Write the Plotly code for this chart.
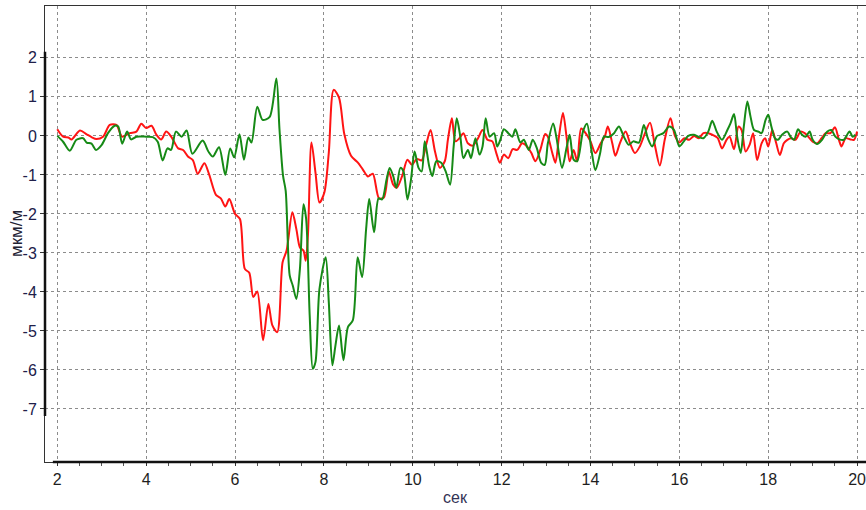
import plotly.graph_objects as go

# ---- data ----
red_t = [2.0, 2.13, 2.25, 2.32, 2.51, 2.66, 2.77, 2.88, 3.03, 3.18, 3.33, 3.46, 3.63, 3.78, 3.89, 4.0, 4.12, 4.23, 4.34, 4.45, 4.57, 4.72, 4.83, 4.94, 5.05, 5.16, 5.31, 5.42, 5.57, 5.68, 5.78, 5.87, 6.0,
         6.11, 6.22, 6.32, 6.41, 6.5, 6.63, 6.75, 6.84, 6.95, 7.07, 7.16, 7.29, 7.38, 7.46, 7.54, 7.59, 7.64, 7.72, 7.81, 7.9, 8.01, 8.11, 8.22, 8.34, 8.46, 8.61, 8.76, 8.87, 8.99,
         9.1, 9.24, 9.35, 9.46, 9.56, 9.64, 9.76, 9.88, 9.98, 10.09, 10.2, 10.3, 10.4, 10.5, 10.61, 10.72, 10.79, 10.88, 10.96, 11.05, 11.14, 11.24, 11.35, 11.46, 11.57, 11.68, 11.79, 11.88, 11.96, 12.05, 12.15, 12.25, 12.35, 12.46, 12.57, 12.67, 12.76, 12.87, 12.98,
         13.04, 13.14, 13.21, 13.29, 13.38, 13.46, 13.53, 13.62, 13.7, 13.79, 13.89, 14.0, 14.11, 14.23, 14.32, 14.39, 14.49, 14.56, 14.66, 14.79, 14.89, 15.0, 15.11, 15.24, 15.34, 15.44, 15.56, 15.67, 15.8, 15.9, 16.0, 16.11, 16.22, 16.33, 16.44, 16.54, 16.65, 16.74, 16.86,
         16.96, 17.06, 17.13, 17.23, 17.33, 17.4, 17.49, 17.58, 17.66, 17.75, 17.85, 17.93, 18.0, 18.09, 18.18, 18.26, 18.35, 18.43, 18.52, 18.61, 18.73, 18.82, 18.9, 19.0, 19.1, 19.2, 19.29, 19.4, 19.5, 19.59, 19.65, 19.74, 19.85, 19.93, 20.0]
red_v = [0.17, -0.02, -0.04, -0.09, 0.14, 0.04, -0.03, -0.08, -0.02, 0.28, 0.28, -0.02, 0.07, 0.11, 0.31, 0.2, 0.26, 0.03, -0.09, 0.11, -0.03, -0.32, -0.36, -0.53, -0.62, -0.97, -0.70, -1.0, -1.51, -1.6, -1.81, -1.62, -2.0,
         -2.13, -3.41, -3.51, -4.13, -3.99, -5.24, -4.31, -4.86, -5.03, -3.24, -2.94, -1.96, -2.39, -2.86, -2.94, -3.2, -2.56, -0.17, -0.94, -1.71, -1.45, -0.43, 1.18, 0.98, 0.04, -0.51, -0.68, -0.85, -1.04,
         -0.97, -1.6, -1.58, -0.91, -1.25, -1.33, -1.03, -0.61, -0.74, -0.59, -0.63, -0.23, 0.15, -0.4, -0.82, -0.65, -0.1, 0.45, -0.14, -0.06, 0.07, -0.19, -0.25, -0.08, 0.15, -0.1, -0.14, -0.44, -0.69, -0.48, -0.57, -0.34, -0.36, -0.19, -0.27, -0.44, -0.65, -0.36, 0.05,
         -0.02, -0.44, -0.69, -0.02, 0.59, -0.02, -0.65, -0.36, -0.65, 0.19, 0.07, -0.14, -0.44, -0.19, -0.02, 0.24, -0.19, -0.51, -0.19, 0.11, -0.19, -0.44, -0.27, 0.11, 0.34, -0.19, -0.76, -0.1, 0.45, 0.0, -0.17, -0.06, -0.1, 0.0, -0.06, 0.07, 0.07, 0.03, -0.05,
         -0.32, -0.1, -0.02, -0.34, 0.24, 0.15, -0.4, -0.23, 0.07, -0.62, -0.19, -0.06, -0.27, 0.15, -0.19, -0.49, -0.19, -0.1, -0.06, -0.1, 0.11, 0.07, -0.02, -0.15, -0.19, -0.06, 0.07, 0.07, 0.22, -0.1, -0.27, -0.06, -0.09, -0.1, 0.11]

green_t = [2.0, 2.13, 2.28, 2.43, 2.58, 2.66, 2.77, 2.87, 3.0, 3.14, 3.29, 3.37, 3.46, 3.57, 3.66, 3.78, 4.0, 4.15, 4.26, 4.37, 4.48, 4.56, 4.67, 4.8, 4.91, 5.04, 5.27, 5.4, 5.5, 5.64, 5.78, 5.89, 5.98,
           6.1, 6.2, 6.3, 6.37, 6.5, 6.62, 6.78, 6.93, 7.0, 7.08, 7.14, 7.23, 7.3, 7.38, 7.46, 7.54, 7.6, 7.68, 7.75, 7.81, 7.9, 8.04, 8.11, 8.19, 8.26, 8.34, 8.44, 8.54, 8.65, 8.76, 8.86, 8.95, 9.02,
           9.13, 9.23, 9.31, 9.41, 9.48, 9.56, 9.63, 9.72, 9.79, 9.88, 9.96, 10.04, 10.13, 10.2, 10.27, 10.37, 10.44, 10.53, 10.64, 10.74, 10.84, 10.92, 10.99, 11.07, 11.14, 11.24, 11.31, 11.41, 11.5, 11.57, 11.64, 11.73, 11.83, 11.9, 11.97, 12.05, 12.15, 12.24, 12.31, 12.42, 12.5, 12.61, 12.7, 12.79, 12.89, 12.97,
           13.04, 13.16, 13.23, 13.36, 13.46, 13.53, 13.62, 13.7, 13.83, 13.92, 14.02, 14.11, 14.21, 14.3, 14.41, 14.53, 14.64, 14.75, 14.86, 14.96, 15.09, 15.2, 15.29, 15.39, 15.5, 15.64, 15.77, 15.88, 16.0, 16.1, 16.2, 16.33, 16.44, 16.54, 16.65, 16.74, 16.84,
           16.96, 17.08, 17.15, 17.23, 17.3, 17.38, 17.45, 17.53, 17.6, 17.68, 17.78, 17.85, 17.94, 18.0, 18.07, 18.15, 18.22, 18.31, 18.43, 18.5, 18.58, 18.67, 18.76, 18.84, 18.93, 19.0, 19.1, 19.21, 19.33, 19.42, 19.51, 19.6, 19.7, 19.83, 19.9, 19.96]
green_v = [0.0, -0.15, -0.38, -0.1, -0.06, -0.17, -0.2, -0.36, -0.23, 0.07, 0.26, 0.24, -0.2, 0.11, -0.09, -0.02, -0.02, -0.03, -0.15, -0.63, -0.32, -0.36, 0.11, -0.02, 0.14, -0.46, -0.12, -0.4, -0.53, -0.29, -1.0, -0.32, -0.55,
           0.04, -0.61, -0.04, -0.17, 0.75, 0.41, 0.49, 1.47, 0.17, -1.02, -1.41, -3.58, -3.84, -4.18, -3.41, -1.75, -2.13, -4.6, -5.97, -5.8, -3.92, -3.11, -4.26, -5.88, -5.37, -4.86, -5.75, -4.9, -4.73, -3.11, -3.62, -2.39, -1.62,
           -2.47, -1.6, -1.63, -1.12, -0.82, -1.03, -1.33, -0.82, -0.91, -1.63, -1.12, -0.4, -0.82, -0.91, -0.14, -0.78, -1.03, -0.65, -0.69, -0.91, -1.25, -0.27, 0.45, -0.02, -0.57, -0.36, -0.57, -0.06, -0.48, -0.27, 0.45, -0.02, 0.07, -0.27, -0.1, 0.17, 0.07, -0.02, 0.17, -0.17, -0.1, -0.36, -0.1, -0.31, -0.69, -0.74,
           -0.19, 0.32, -0.02, -0.82, -0.31, 0.03, -0.61, -0.65, 0.11, 0.31, -0.36, -0.88, -0.48, -0.02, -0.03, 0.07, 0.24, -0.02, -0.23, -0.14, -0.17, 0.28, -0.06, -0.27, 0.0, 0.07, 0.24, 0.15, -0.27, -0.14, 0.0, 0.03, -0.03, -0.06, 0.11, 0.39, 0.11,
           -0.1, 0.15, 0.32, 0.56, -0.02, -0.44, 0.24, 0.88, 0.5, 0.15, 0.11, 0.07, 0.41, 0.54, 0.24, -0.06, -0.1, 0.03, 0.11, -0.02, -0.1, 0.17, 0.03, -0.02, 0.11, -0.1, -0.21, -0.1, 0.11, 0.15, -0.02, -0.09, -0.1, 0.11, -0.02, 0.03]

x_ticks = [2, 4, 6, 8, 10, 12, 14, 16, 18, 20]
y_ticks = [-7, -6, -5, -4, -3, -2, -1, 0, 1, 2]
x_title = "сек"
y_title = "мкм/м"

fig = go.Figure()
fig.add_trace(go.Scatter(x=red_t, y=red_v, mode="lines",
                         line=dict(color="#ff1414", width=2, shape="spline", smoothing=0.8),
                         showlegend=False, hoverinfo="skip"))
fig.add_trace(go.Scatter(x=green_t, y=green_v, mode="lines",
                         line=dict(color="#168a16", width=2, shape="spline", smoothing=0.8),
                         showlegend=False, hoverinfo="skip"))

x_range = [1.723, 20.2]
y_range = [-8.36, 3.33]

tickfont = dict(family="Liberation Sans Narrow, Arial Narrow, Liberation Sans, Arial", size=16)

fig.update_layout(
    width=866, height=510,
    margin=dict(l=45, r=0, t=6, b=48, autoexpand=False),
    paper_bgcolor="white", plot_bgcolor="white",
    xaxis=dict(range=x_range, tickvals=x_ticks, ticktext=[str(v) for v in x_ticks],
               automargin=False, ticklabeloverflow="allow",
               showgrid=True, gridcolor="#8c8c8c", griddash="3px,3px", gridwidth=1,
               zeroline=False, showline=True, linecolor="#333333", linewidth=1, mirror=True,
               ticks="outside", ticklen=3, tickcolor="#333333",
               minor=dict(dtick=0.5, tick0=2, ticks="outside", ticklen=3, tickcolor="#555555", showgrid=False),
               tickfont=dict(color="#1e1e1e", **tickfont)),
    yaxis=dict(range=y_range, tickvals=y_ticks, ticktext=[str(v) for v in y_ticks],
               automargin=False, ticklabeloverflow="allow",
               showgrid=True, gridcolor="#8c8c8c", griddash="3px,3px", gridwidth=1,
               zeroline=False, showline=True, linecolor="#333333", linewidth=1,
               ticks="outside", ticklen=4, tickcolor="#333333",
               tickfont=dict(color="#20204a", **tickfont)),
)

# axis titles
fig.add_annotation(text=x_title, xref="paper", yref="paper", x=0.5, y=0, yshift=-35,
                   xanchor="center", yanchor="middle", showarrow=False,
                   font=dict(family="Liberation Sans, Arial", size=16, color="#333355"))
fig.add_annotation(text=y_title, xref="paper", yref="paper", x=0, xshift=-29, y=0.5,
                   xanchor="center", yanchor="middle", textangle=-90, showarrow=False,
                   font=dict(family="Liberation Sans, Arial", size=17, color="#222233"))

# thick axis segments spanning the labelled tick range
fig.add_shape(type="line", xref="paper", yref="y", x0=0, x1=0,
              y0=min(y_ticks) - 0.18, y1=max(y_ticks) + 0.16,
              line=dict(color="#111111", width=2.5))
fig.add_shape(type="line", xref="x", yref="paper", x0=min(x_ticks) - 0.1, x1=x_range[1],
              y0=0, y1=0, line=dict(color="#111111", width=2.5))

fig.write_html("out.html", config={"displayModeBar": False},
               post_script="document.body.style.margin='0';document.body.style.overflow='hidden';")
